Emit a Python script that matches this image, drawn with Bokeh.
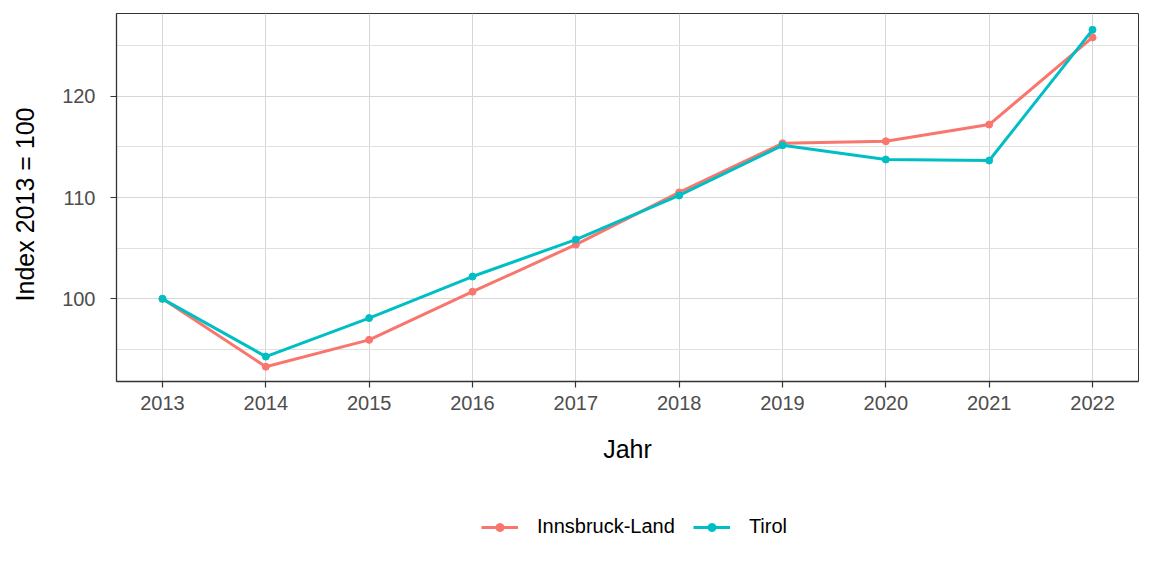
from bokeh.plotting import figure
from bokeh.layouts import column
from bokeh.models import Range1d, FixedTicker, Legend, LegendItem
from bokeh.embed import file_html
from bokeh.resources import INLINE

years = [2013, 2014, 2015, 2016, 2017, 2018, 2019, 2020, 2021, 2022]
innsbruck_land = [100.0, 93.3, 95.95, 100.7, 105.35, 110.5, 115.35, 115.55, 117.2, 125.8]
tirol = [100.0, 94.3, 98.1, 102.2, 105.85, 110.2, 115.15, 113.75, 113.65, 126.55]
series_names = ["Innsbruck-Land", "Tirol"]
colors = ["#F8766D", "#00BFC4"]
y_ticks = [100, 110, 120]
y_minor = [95, 105, 115, 125]

FONT = "Liberation Sans"

p = figure(frame_width=1022, frame_height=368, output_backend="svg", toolbar_location=None,
           x_range=Range1d(2012.555, 2022.445), y_range=Range1d(91.84, 128.16),
           min_border_left=116, min_border_right=14, min_border_top=13, min_border_bottom=95)

p.background_fill_color = "white"
p.border_fill_color = "white"
p.outline_line_color = "#333333"
p.outline_line_width = 1

p.xaxis.ticker = FixedTicker(ticks=years)
p.yaxis.ticker = FixedTicker(ticks=y_ticks, minor_ticks=y_minor)
p.xgrid.ticker = FixedTicker(ticks=years)
p.ygrid.ticker = FixedTicker(ticks=y_ticks, minor_ticks=y_minor)
p.xgrid.grid_line_color = "#d6d6d6"
p.ygrid.grid_line_color = "#d6d6d6"
p.ygrid.minor_grid_line_color = "#e0e0e0"
p.xgrid.grid_line_width = 1
p.ygrid.grid_line_width = 1

for ax in (p.xaxis, p.yaxis):
    ax.axis_line_color = "#333333"
    ax.axis_line_width = 1.3
    ax.major_tick_line_color = "#333333"
    ax.major_tick_line_width = 1.2
    ax.major_tick_in = 0
    ax.major_tick_out = 6
    ax.minor_tick_line_color = None
    ax.major_label_text_font = FONT
    ax.major_label_text_font_size = "20px"
    ax.major_label_text_color = "#4d4d4d"
    ax.axis_label_text_font = FONT
    ax.axis_label_text_font_size = "25px"
    ax.axis_label_text_font_style = "normal"
    ax.axis_label_text_color = "black"

p.xaxis.axis_label = "Jahr"
p.yaxis.axis_label = "Index  2013  = 100"
p.xaxis.major_label_standoff = 8
p.xaxis.axis_label_standoff = 22
p.yaxis.major_label_standoff = 15
p.yaxis.axis_label_standoff = 20

for name, vals, c in zip(series_names, [innsbruck_land, tirol], colors):
    p.line(years, vals, line_color=c, line_width=3)
    p.scatter(years, vals, marker="circle", size=7, fill_color=c, line_color=c)

# separate legend strip below the main plot (series drawn out of view, only the legend shows)
lg = figure(width=1152, height=100, output_backend="svg", toolbar_location=None,
            x_axis_location=None, y_axis_location=None,
            min_border_left=0, min_border_right=0, min_border_top=0, min_border_bottom=0,
            x_range=Range1d(0, 1), y_range=Range1d(0, 1))
lg.grid.visible = False
lg.outline_line_color = None
lg.background_fill_color = "white"
lg.border_fill_color = "white"

items = []
for name, vals, c in zip(series_names, [innsbruck_land, tirol], colors):
    r1 = lg.line(years, vals, line_color=c, line_width=3)
    r2 = lg.scatter(years, vals, marker="circle", size=7, fill_color=c, line_color=c)
    items.append(LegendItem(label=name, renderers=[r1, r2]))

legend = Legend(items=items, orientation="horizontal", location=(365, 38),
                label_text_font=FONT, label_text_font_size="20px",
                label_text_color="black", glyph_width=37, glyph_height=20,
                spacing=18, label_standoff=19, border_line_color=None,
                background_fill_alpha=0, margin=0, padding=5)
lg.add_layout(legend, "center")

layout = column(p, lg, spacing=0)
open("out.html", "w").write(file_html(layout, INLINE))
